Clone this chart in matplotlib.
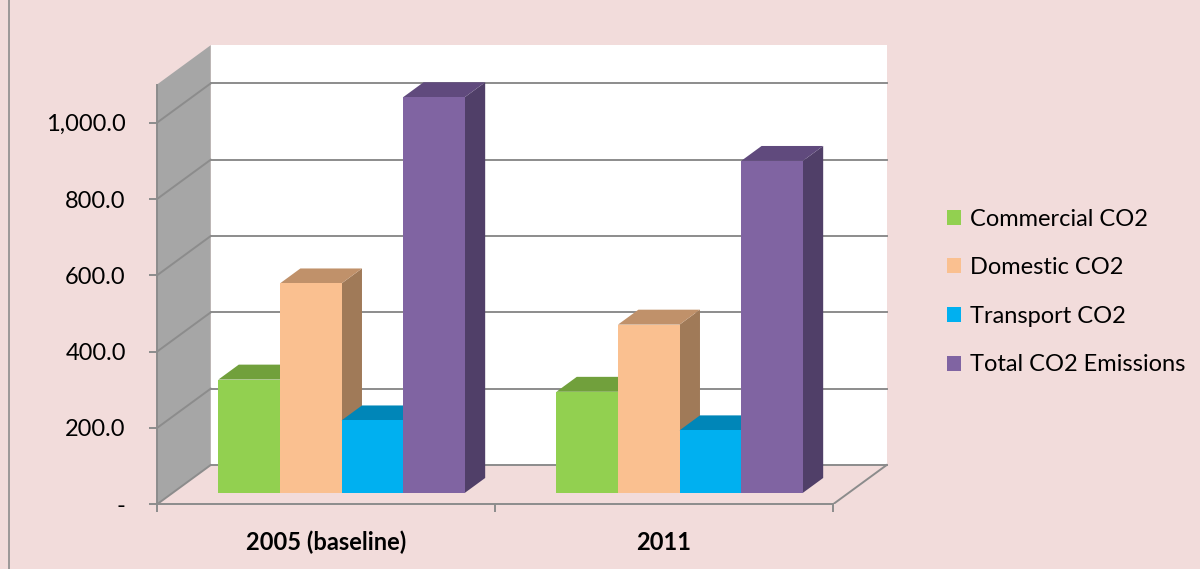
import numpy as np
import matplotlib.pyplot as plt
from matplotlib.patches import Patch
from matplotlib.lines import Line2D

# data
categories = ['2005 (baseline)', '2011']
series = ['Commercial CO2', 'Domestic CO2', 'Transport CO2', 'Total CO2 Emissions']
commercial = [297, 265]
domestic = [549, 441]
transport = [190, 164]
total = [1037, 870]
values = [commercial, domestic, transport, total]
yticks = [0, 200, 400, 600, 800, 1000]
ymax = 1100

front_col = ['#92D050', '#FAC090', '#00B0F0', '#8064A2']
top_col = ['#71A03C', '#C0916A', '#0086B8', '#604A7D']
side_col = ['#6A9438', '#A07A58', '#0074A0', '#503F68']
bg = '#F2DCDB'
grid_col = '#8C8C8C'

plt.rcParams['font.family'] = ['Lato', 'DejaVu Sans']

W, H = 1200, 569
fig = plt.figure(figsize=(12, 5.69), dpi=100, facecolor=bg)

# pixel layout of the fake 3d box
x0, y0 = 157, 504.3          # front-left-bottom corner
unit_x = 338.0               # px per category
unit_y = 0.3816              # px per value
x_right, y_top = 890, 40
ax = fig.add_axes([x0 / W, (H - y0) / H, (x_right - x0) / W, (y0 - y_top) / H])
ax.set_facecolor('none')
ax.set_xlim(0, (x_right - x0) / unit_x)
ax.set_ylim(0, (y0 - y_top) / unit_y)

DX = 53.7 / unit_x   # depth offset in data units
DY = 39.3 / unit_y
ncat = len(categories)

# left (grey) wall
ax.fill([0, 0, DX, DX], [0, ymax, ymax + DY, DY], color='#A6A6A6', zorder=1, lw=0)
# back wall
ax.fill([DX, ncat + DX, ncat + DX, DX], [DY, DY, ymax + DY, ymax + DY],
        color='white', zorder=1, lw=0)
# gridlines on both walls
for v in yticks:
    ax.plot([0, DX], [v, v + DY], color=grid_col, lw=1.4, zorder=2)
    ax.plot([DX, ncat + DX], [v + DY, v + DY], color=grid_col, lw=1.4, zorder=2)
# floor right edge
ax.plot([ncat, ncat + DX], [0, DY], color=grid_col, lw=1.4, zorder=2)

# bars
f_front, f_back = 0.29, 0.67
bw = 61.6 / unit_x
fdx, fdy = DX * f_front, DY * f_front
sdx, sdy = DX * (f_back - f_front), DY * (f_back - f_front)
z = 3
for c in range(ncat):
    left0 = c + 0.5 - 2 * bw + fdx
    for i in range(len(series)):
        v = values[i][c]
        l = left0 + i * bw
        r = l + bw
        top = fdy + v
        ax.fill([r, r + sdx, r + sdx, r], [fdy, fdy + sdy, top + sdy, top],
                color=side_col[i], lw=0, zorder=z)
        ax.fill([l, r, r + sdx, l + sdx], [top, top, top + sdy, top + sdy],
                color=top_col[i], lw=0, zorder=z)
        ax.bar(l, v, width=bw, bottom=fdy, align='edge', color=front_col[i],
               lw=0, zorder=z + 0.5)
        z += 1

# axes
for s in ['top', 'right']:
    ax.spines[s].set_visible(False)
ax.spines['left'].set_bounds(0, ymax)
ax.spines['bottom'].set_bounds(0, ncat)
for s in ['left', 'bottom']:
    ax.spines[s].set_color(grid_col)
    ax.spines[s].set_linewidth(1.4)
    ax.spines[s].set_zorder(2.5)

ax.set_yticks(yticks, labels=['-' if t == 0 else f'{t:,.1f}' for t in yticks])
ax.tick_params(axis='y', length=5.5, width=1.4, color=grid_col, pad=17,
               labelsize=17, labelcolor='black')
ax.set_xticks(range(ncat + 1), labels=[''] * (ncat + 1))
ax.tick_params(axis='x', which='major', length=6, width=1.4, color=grid_col)
ax.set_xticks([c + 0.5 for c in range(ncat)], labels=categories, minor=True)
ax.tick_params(axis='x', which='minor', length=0, pad=19, labelsize=17)
for t in ax.get_xticklabels(minor=True):
    t.set_fontweight('bold')

# legend
handles = [Patch(facecolor=col, edgecolor='none') for col in front_col]
fig.legend(handles, series, loc='center left',
           bbox_to_anchor=(926 / W, 1 - 292 / H), frameon=False,
           fontsize=17, labelspacing=1.17, handlelength=0.6,
           handleheight=0.6, handletextpad=0.35)

# chart border
fig.add_artist(Line2D([9 / W, 9 / W], [0, 1], color='#8C8C8C', lw=1.2))

fig.savefig('out.png', dpi=100, facecolor=bg)
